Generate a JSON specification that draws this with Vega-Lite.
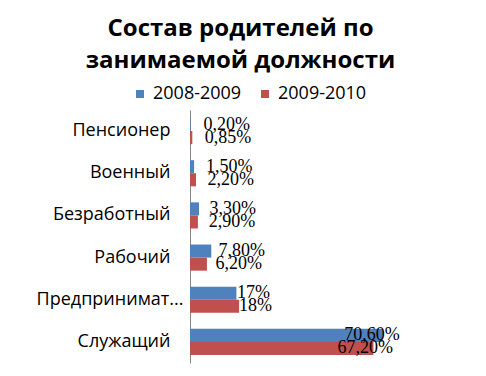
{
  "$schema": "https://vega.github.io/schema/vega-lite/v6.json",
  "width": 273,
  "height": 253,
  "autosize": {"type": "none"},
  "padding": {"left": 190, "top": 110, "right": 23, "bottom": 13},
  "background": "white",
  "title": {
    "text": ["Состав родителей по", "занимаемой должности"],
    "font": "Open Sans",
    "fontSize": 24,
    "fontWeight": "bold",
    "color": "black",
    "anchor": "middle",
    "frame": "group",
    "dx": -86,
    "lineHeight": 32,
    "offset": 12
  },
  "config": {"view": {"stroke": null}},
  "data": {
    "values": [
      {"category": "Пенсионер", "series": "2008-2009", "value": 0.2, "label": "0,20%"},
      {"category": "Пенсионер", "series": "2009-2010", "value": 0.85, "label": "0,85%"},
      {"category": "Военный", "series": "2008-2009", "value": 1.5, "label": "1,50%"},
      {"category": "Военный", "series": "2009-2010", "value": 2.2, "label": "2,20%"},
      {"category": "Безработный", "series": "2008-2009", "value": 3.3, "label": "3,30%"},
      {"category": "Безработный", "series": "2009-2010", "value": 2.9, "label": "2,90%"},
      {"category": "Рабочий", "series": "2008-2009", "value": 7.8, "label": "7,80%"},
      {"category": "Рабочий", "series": "2009-2010", "value": 6.2, "label": "6,20%"},
      {"category": "Предприниматель", "series": "2008-2009", "value": 17, "label": "17%"},
      {"category": "Предприниматель", "series": "2009-2010", "value": 18, "label": "18%"},
      {"category": "Служащий", "series": "2008-2009", "value": 70.6, "label": "70,60%"},
      {"category": "Служащий", "series": "2009-2010", "value": 67.2, "label": "67,20%"}
    ]
  },
  "encoding": {
    "y": {
      "field": "category",
      "type": "nominal",
      "sort": ["Пенсионер", "Военный", "Безработный", "Рабочий", "Предприниматель", "Служащий"],
      "scale": {"paddingInner": 0.38, "paddingOuter": 0.19},
      "axis": {
        "title": null,
        "ticks": false,
        "domainColor": "#868686",
        "labelFont": "Open Sans",
        "labelFontSize": 18,
        "labelColor": "black",
        "labelPadding": {"condition": {"test": "datum.value == 'Предприниматель'", "value": 7}, "value": 20},
        "labelLimit": 300,
        "labelExpr": "datum.label == 'Предприниматель' ? 'Предпринимат...' : datum.label"
      }
    },
    "yOffset": {"field": "series", "type": "nominal", "sort": ["2008-2009", "2009-2010"]}
  },
  "layer": [
    {
      "mark": {"type": "bar"},
      "encoding": {
        "x": {"field": "value", "type": "quantitative", "scale": {"domain": [0, 100], "nice": false}, "axis": null},
        "color": {
          "field": "series",
          "type": "nominal",
          "scale": {"domain": ["2008-2009", "2009-2010"], "range": ["#4F81BD", "#C0504D"]},
          "legend": {
            "title": null,
            "orient": "none",
            "legendX": -59,
            "legendY": -25,
            "direction": "horizontal",
            "symbolType": "square",
            "symbolSize": 64,
            "symbolStrokeWidth": 0,
            "labelFont": "Open Sans",
            "labelFontSize": 18,
            "labelColor": "black",
            "columnPadding": 14
          }
        }
      }
    },
    {
      "mark": {"type": "text", "align": "left", "baseline": "middle", "dx": 13, "font": "Liberation Serif", "fontSize": 18, "color": "black"},
      "encoding": {
        "x": {"field": "value", "type": "quantitative", "scale": {"domain": [0, 136.5], "nice": false}, "axis": null},
        "text": {"field": "label"}
      }
    }
  ],
  "resolve": {"scale": {"x": "independent"}}
}
